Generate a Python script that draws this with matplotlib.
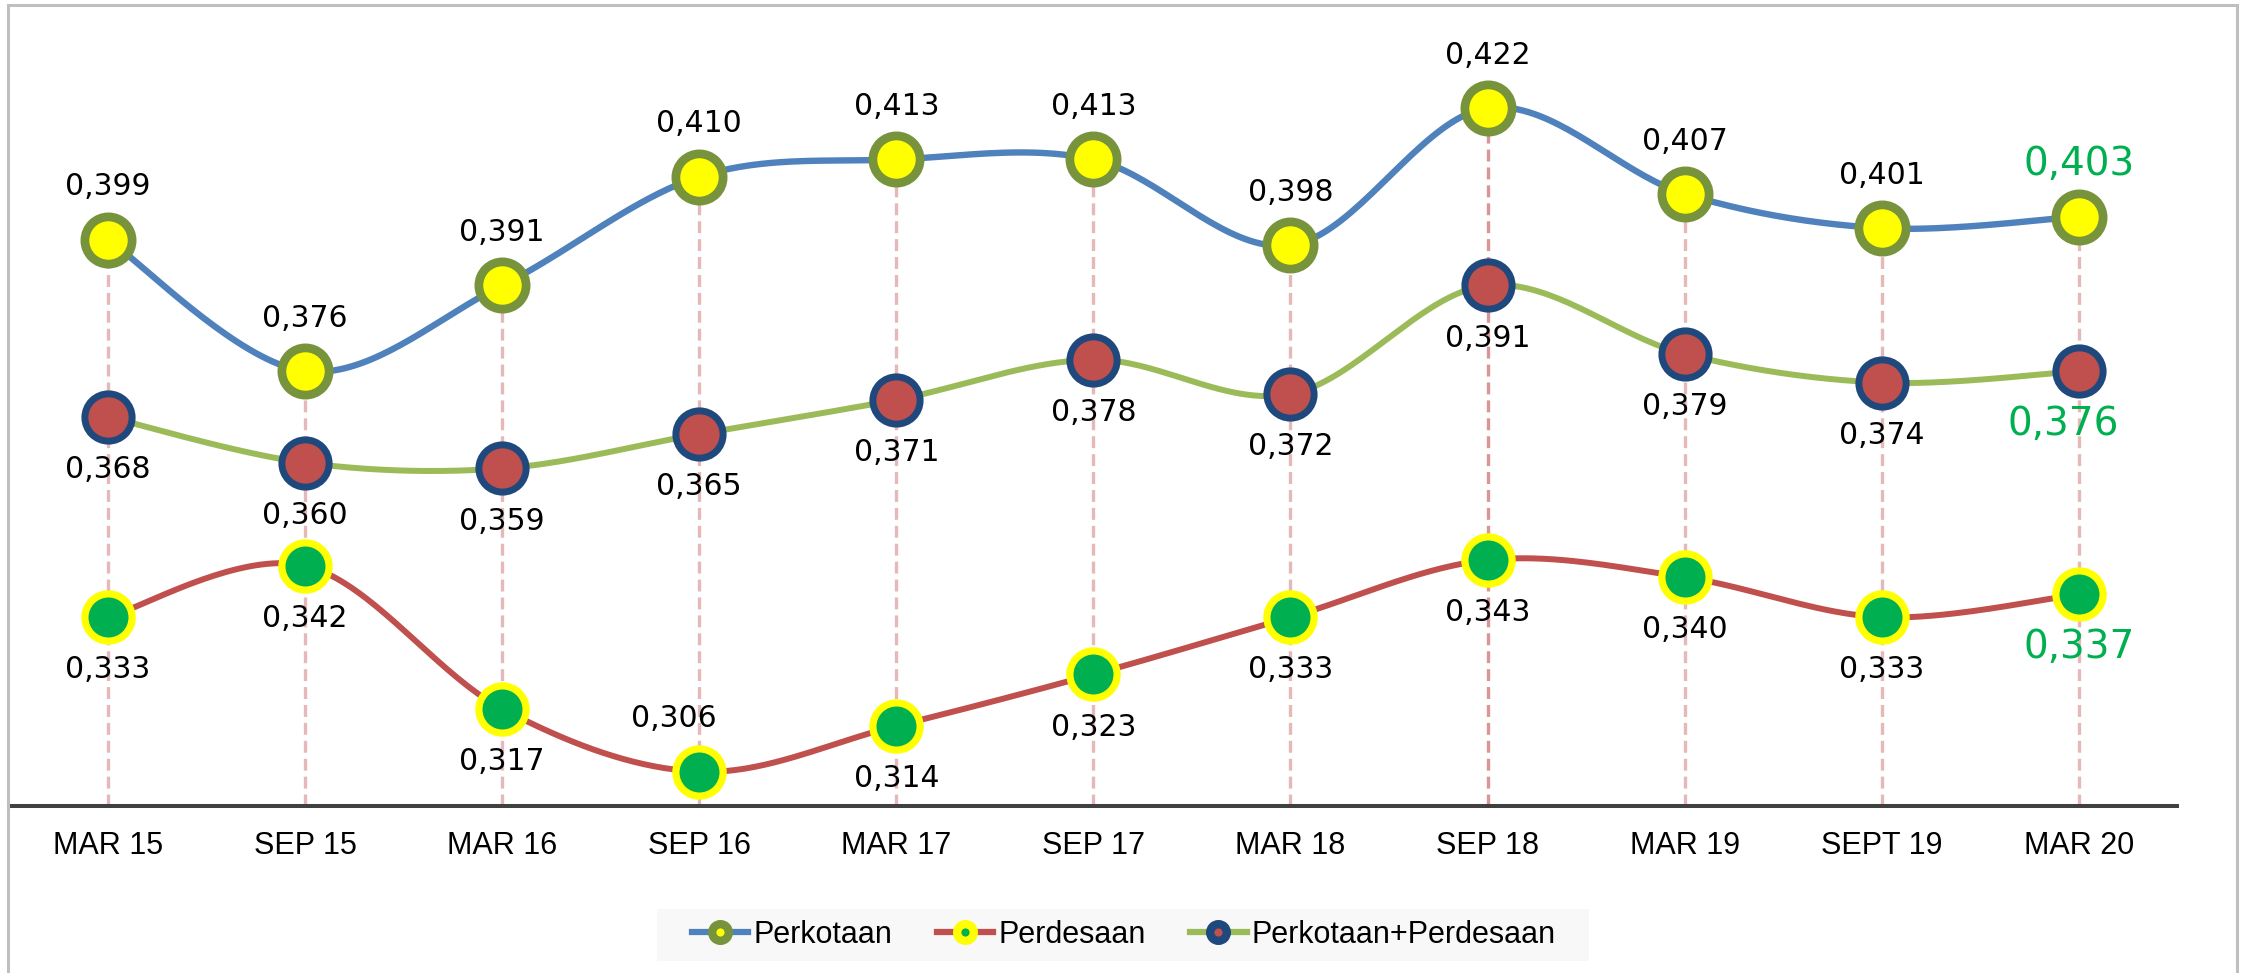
import numpy as np
import matplotlib
matplotlib.use('Agg')
import matplotlib.pyplot as plt
from matplotlib.lines import Line2D
from matplotlib.patches import Rectangle

# Data: indeks per periode (Maret / September)
periode = ['MAR 15', 'SEP 15', 'MAR 16', 'SEP 16', 'MAR 17', 'SEP 17',
           'MAR 18', 'SEP 18', 'MAR 19', 'SEPT 19', 'MAR 20']
perkotaan = [0.399, 0.376, 0.391, 0.410, 0.413, 0.413, 0.398, 0.422, 0.407, 0.401, 0.403]
perdesaan = [0.333, 0.342, 0.317, 0.306, 0.314, 0.323, 0.333, 0.343, 0.340, 0.333, 0.337]
gabungan = [0.368, 0.360, 0.359, 0.365, 0.371, 0.378, 0.372, 0.391, 0.379, 0.374, 0.376]

plt.rcParams['lines.scale_dashes'] = False


def smooth(x, y, n=40):
    # kurva halus ala Excel (Bezier dengan titik kontrol Catmull-Rom)
    pts = np.column_stack([x, y]).astype(float)
    ext = np.vstack([pts[0], pts, pts[-1]])
    out = []
    t = np.linspace(0, 1, n)[:, None]
    for i in range(len(pts) - 1):
        p0, p1, p2, p3 = ext[i], ext[i + 1], ext[i + 2], ext[i + 3]
        c1 = p1 + (p2 - p0) / 6
        c2 = p2 - (p3 - p1) / 6
        seg = (1 - t) ** 3 * p1 + 3 * (1 - t) ** 2 * t * c1 + 3 * (1 - t) * t ** 2 * c2 + t ** 3 * p2
        out.append(seg if i == 0 else seg[1:])
    return np.vstack(out)


W, H = 2244, 973
fig = plt.figure(figsize=(W / 100, H / 100), dpi=100)
ax = fig.add_axes([9.4 / W, 167 / H, 2168 / W, 801 / H])
ax.set_xlim(-0.5, 10.5)
ax.set_ylim(0.30, 0.44)

x = np.arange(len(periode))

# garis bantu vertikal putus-putus
for i in x:
    warna = '#d99694' if periode[i] == 'SEP 18' else '#e6b9b8'
    ax.vlines(i, 0.30, max(perkotaan[i], perdesaan[i], gabungan[i]), colors=warna,
              lw=2.4, linestyles=(0, (8.6, 4.3)), zorder=1)

seri = [
    (perkotaan, '#4f81bd', 4.6, '#ffff00', '#77933c', 6.3),
    (perdesaan, '#c0504d', 4.3, '#00b050', '#ffff00', 5.2),
    (gabungan, '#9bbb59', 4.3, '#c0504d', '#1f497d', 5.0),
]
for vals, lc, lw, fc, ec, mew in seri:
    s = smooth(x, vals)
    ax.plot(s[:, 0], s[:, 1], color=lc, lw=lw, solid_capstyle='round', zorder=2)
    ax.plot(x, vals, ls='none', marker='o', ms=34, mfc=fc, mec=ec, mew=mew, zorder=3)


def label(i, v, above, dx=0):
    last = i == len(periode) - 1
    ax.annotate(f'{v:.3f}'.replace('.', ','), (i, v),
                xytext=(dx, 38 if above else -38), textcoords='offset points',
                ha='center', va='center', family='DejaVu Sans',
                fontsize=28 if last else 21.5,
                color='#00b050' if last else 'black', zorder=4)


for i, v in enumerate(perkotaan):
    label(i, v, True)
for i, v in enumerate(gabungan):
    label(i, v, False, dx=-11 if i == len(periode) - 1 else 0)
for i, v in enumerate(perdesaan):
    dekat_sumbu = v < 0.31
    label(i, v, dekat_sumbu, dx=-18 if dekat_sumbu else 0)

# sumbu
for sp in ['left', 'right', 'top']:
    ax.spines[sp].set_visible(False)
ax.spines['bottom'].set_color('#404040')
ax.spines['bottom'].set_linewidth(2.9)
ax.set_yticks([])
ax.set_xticks(x)
ax.set_xticklabels(periode, fontsize=22, family='Liberation Sans')
ax.tick_params(axis='x', length=0, pad=18)

# legenda
fig.patches.append(Rectangle((657 / W, (H - 961) / H), (1589 - 657) / W, 52 / H,
                             transform=fig.transFigure, facecolor='#f8f8f8',
                             edgecolor='none', zorder=0))
handles = [
    Line2D([], [], color='#4f81bd', lw=4.5, marker='o', ms=12, mfc='#ffff00', mec='#77933c', mew=6),
    Line2D([], [], color='#c0504d', lw=4.5, marker='o', ms=12, mfc='#00b050', mec='#ffff00', mew=6),
    Line2D([], [], color='#9bbb59', lw=4.5, marker='o', ms=12, mfc='#c0504d', mec='#1f497d', mew=6),
]
fig.legend(handles, ['Perkotaan', 'Perdesaan', 'Perkotaan+Perdesaan'],
           loc='center', bbox_to_anchor=(1124 / W, (H - 935) / H), ncol=3,
           frameon=False, prop={'family': 'Liberation Sans', 'size': 22},
           handlelength=1.85, handletextpad=0.17, columnspacing=1.45)

# bingkai grafik
fig.patches.append(Rectangle((8 / W, -10 / H), (2237 - 8) / W, 978 / H,
                             transform=fig.transFigure, facecolor='none',
                             edgecolor='#bfbfbf', lw=2.2, zorder=5))

fig.savefig('out.png', dpi=100, facecolor='white')
